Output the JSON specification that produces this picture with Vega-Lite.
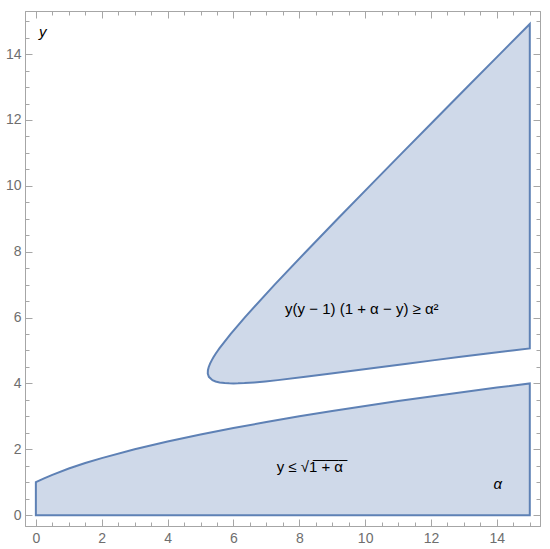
{
  "$schema": "https://vega.github.io/schema/vega-lite/v6.json",
  "width": 515,
  "height": 515,
  "autosize": {"type": "none"},
  "padding": {"left": 25, "top": 11, "right": 10, "bottom": 23},
  "background": "white",
  "config": {
    "view": {"stroke": "#a6a6a6", "strokeWidth": 1},
    "axis": {
      "grid": false,
      "domainColor": "#a6a6a6",
      "tickColor": "#a6a6a6",
      "labelColor": "#6e6e6e",
      "labelFont": "Liberation Sans",
      "labelFontSize": 14,
      "title": null
    }
  },
  "datasets": {
    "lower": [
      {"a": 0, "y": 1}, {"a": 0.25, "y": 1.118}, {"a": 0.5, "y": 1.2247}, {"a": 1, "y": 1.4142},
      {"a": 1.5, "y": 1.5811}, {"a": 2, "y": 1.7321}, {"a": 3, "y": 2}, {"a": 4, "y": 2.2361},
      {"a": 5, "y": 2.4495}, {"a": 6, "y": 2.6458}, {"a": 7, "y": 2.8284}, {"a": 8, "y": 3},
      {"a": 9, "y": 3.1623}, {"a": 10, "y": 3.3166}, {"a": 11, "y": 3.4641}, {"a": 12, "y": 3.6056},
      {"a": 13, "y": 3.7417}, {"a": 14, "y": 3.873}, {"a": 15, "y": 4}
    ],
    "upper": [
      {"y": 4, "lo": 6, "hi": 6},
      {"y": 4.002, "lo": 5.873, "hi": 6.141},
      {"y": 4.01, "lo": 5.734, "hi": 6.336},
      {"y": 4.03, "lo": 5.579, "hi": 6.632},
      {"y": 4.06, "lo": 5.457, "hi": 6.967},
      {"y": 4.1, "lo": 5.363, "hi": 7.347},
      {"y": 4.2, "lo": 5.254, "hi": 8.186},
      {"y": 4.3, "lo": 5.221, "hi": 8.969},
      {"y": 4.4, "lo": 5.225, "hi": 9.735},
      {"y": 4.5, "lo": 5.25, "hi": 10.5},
      {"y": 4.6, "lo": 5.29, "hi": 11.27},
      {"y": 4.7, "lo": 5.34, "hi": 12.051},
      {"y": 4.8, "lo": 5.397, "hi": 12.843},
      {"y": 4.9, "lo": 5.46, "hi": 13.65},
      {"y": 5.0, "lo": 5.528, "hi": 14.472},
      {"y": 5.063, "lo": 5.573, "hi": 15},
      {"y": 5.5, "lo": 5.912, "hi": 15},
      {"y": 6, "lo": 6.34, "hi": 15},
      {"y": 7, "lo": 7.252, "hi": 15},
      {"y": 8, "lo": 8.201, "hi": 15},
      {"y": 9, "lo": 9.167, "hi": 15},
      {"y": 10, "lo": 10.143, "hi": 15},
      {"y": 11, "lo": 11.125, "hi": 15},
      {"y": 12, "lo": 12.111, "hi": 15},
      {"y": 13, "lo": 13.1, "hi": 15},
      {"y": 14, "lo": 14.091, "hi": 15},
      {"y": 14.916, "lo": 15, "hi": 15}
    ],
    "letters": [
      {"a": 0.21, "y": 14.67, "label": "y"},
      {"a": 14.03, "y": 0.94, "label": "α"}
    ],
    "formulas": [
      {"a": 9.9, "y": 6.26, "label": "y(y − 1) (1 + α − y) ≥ α²"},
      {"a": 8.32, "y": 1.47, "label": "y ≤ √1\u0305 \u0305+\u0305 \u0305α\u0305"}
    ]
  },
  "resolve": {"axis": {"x": "independent", "y": "independent"}},
  "layer": [
    {
      "data": {"name": "lower"},
      "mark": {"type": "area", "fill": "#cfd9e9", "stroke": "#5e81b5", "strokeWidth": 2, "orient": "vertical"},
      "encoding": {
        "x": {"field": "a", "type": "quantitative",
          "scale": {"domain": [-0.33, 15.31], "nice": false, "zero": false},
          "axis": {"orient": "bottom", "values": [0,0.5,1,1.5,2,2.5,3,3.5,4,4.5,5,5.5,6,6.5,7,7.5,8,8.5,9,9.5,10,10.5,11,11.5,12,12.5,13,13.5,14,14.5,15],
            "labelExpr": "datum.value % 2 == 0 ? format(datum.value, 'd') : ''",
            "tickSize": {"condition": {"test": "datum.value % 2 == 0", "value": -7}, "value": -4},
            "labelPadding": 12, "labelFlush": false, "labelOverlap": false}},
        "y": {"field": "y", "type": "quantitative",
          "scale": {"domain": [-0.33, 15.31], "nice": false, "zero": false},
          "axis": {"orient": "left", "values": [0,0.5,1,1.5,2,2.5,3,3.5,4,4.5,5,5.5,6,6.5,7,7.5,8,8.5,9,9.5,10,10.5,11,11.5,12,12.5,13,13.5,14,14.5,15],
            "labelExpr": "datum.value % 2 == 0 ? format(datum.value, 'd') : ''",
            "tickSize": {"condition": {"test": "datum.value % 2 == 0", "value": -7}, "value": -4},
            "labelPadding": 11, "labelFlush": false, "labelOverlap": false}},
        "y2": {"datum": 0}
      }
    },
    {
      "data": {"name": "upper"},
      "mark": {"type": "area", "fill": "#cfd9e9", "stroke": "#5e81b5", "strokeWidth": 2, "orient": "horizontal"},
      "encoding": {
        "y": {"field": "y", "type": "quantitative",
          "scale": {"domain": [-0.33, 15.31], "nice": false, "zero": false},
          "axis": {"orient": "right", "values": [0,0.5,1,1.5,2,2.5,3,3.5,4,4.5,5,5.5,6,6.5,7,7.5,8,8.5,9,9.5,10,10.5,11,11.5,12,12.5,13,13.5,14,14.5,15],
            "labels": false,
            "tickSize": {"condition": {"test": "datum.value % 2 == 0", "value": -7}, "value": -4}}},
        "x": {"field": "lo", "type": "quantitative",
          "scale": {"domain": [-0.33, 15.31], "nice": false, "zero": false},
          "axis": {"orient": "top", "values": [0,0.5,1,1.5,2,2.5,3,3.5,4,4.5,5,5.5,6,6.5,7,7.5,8,8.5,9,9.5,10,10.5,11,11.5,12,12.5,13,13.5,14,14.5,15],
            "labels": false,
            "tickSize": {"condition": {"test": "datum.value % 2 == 0", "value": -7}, "value": -4}}},
        "x2": {"field": "hi"}
      }
    },
    {
      "data": {"name": "letters"},
      "mark": {"type": "text", "font": "Liberation Sans", "fontSize": 15, "fontStyle": "italic", "color": "black"},
      "encoding": {
        "x": {"field": "a", "type": "quantitative", "axis": null},
        "y": {"field": "y", "type": "quantitative", "axis": null},
        "text": {"field": "label"}
      }
    },
    {
      "data": {"name": "formulas"},
      "mark": {"type": "text", "font": "Liberation Sans", "fontSize": 15, "color": "black"},
      "encoding": {
        "x": {"field": "a", "type": "quantitative", "axis": null},
        "y": {"field": "y", "type": "quantitative", "axis": null},
        "text": {"field": "label"}
      }
    }
  ]
}
